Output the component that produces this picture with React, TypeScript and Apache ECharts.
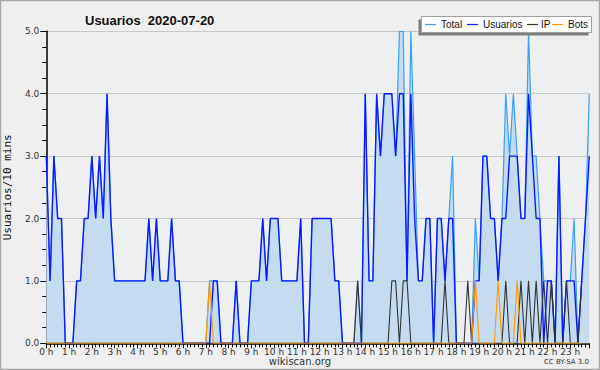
import React, { useEffect, useRef } from "react";
import * as echarts from "echarts";

const hourLabels: string[] = Array.from({ length: 24 }, (_, h) => `${h} h`);

// 10-minute buckets, 144 per day
const usuarios: number[] = [
  3, 1, 3, 2, 2, 0, 0, 0, 1, 1, 2, 2, 3, 2, 3, 2, 4, 2, 1, 1, 1, 1, 1, 1, 1, 1, 1, 2, 1, 2, 1, 1, 1, 2, 1, 1,
  0, 0, 0, 0, 0, 0, 0, 0, 1, 1, 0, 0, 0, 0, 1, 0, 0, 0, 1, 1, 1, 2, 1, 2, 2, 2, 1, 1, 1, 1, 1, 2, 0, 0, 2, 2,
  2, 2, 2, 2, 1, 1, 0, 0, 0, 0, 0, 0, 4, 1, 1, 4, 3, 4, 4, 4, 3, 4, 4, 1, 4, 2, 1, 1, 2, 2, 0, 2, 2, 1, 2, 2,
  0, 0, 0, 0, 0, 1, 1, 3, 3, 2, 2, 1, 2, 2, 3, 3, 3, 2, 2, 4, 3, 2, 2, 0, 1, 1, 0, 3, 0, 1, 1, 1, 0, 1, 2, 3,
];

const total: number[] = [
  3, 1, 3, 2, 2, 0, 0, 0, 1, 1, 2, 2, 3, 2, 3, 2, 4, 2, 1, 1, 1, 1, 1, 1, 1, 1, 1, 2, 1, 2, 1, 1, 1, 2, 1, 1,
  0, 0, 0, 0, 0, 0, 0, 1, 1, 1, 0, 0, 0, 0, 1, 0, 0, 0, 1, 1, 1, 2, 1, 2, 2, 2, 1, 1, 1, 1, 1, 2, 0, 0, 2, 2,
  2, 2, 2, 2, 1, 1, 0, 0, 0, 0, 1, 0, 4, 1, 1, 4, 3, 4, 4, 4, 3, 5, 5, 1, 5, 3, 1, 1, 2, 2, 0, 2, 2, 1, 2, 3,
  0, 0, 0, 0, 0, 2, 1, 3, 3, 2, 2, 1, 2, 4, 3, 4, 3, 2, 2, 5, 3, 3, 2, 1, 1, 1, 0, 3, 0, 1, 1, 2, 0, 1, 2, 4,
];

const ip: number[] = [
  0, 0, 0, 0, 0, 0, 0, 0, 0, 0, 0, 0, 0, 0, 0, 0, 0, 0, 0, 0, 0, 0, 0, 0, 0, 0, 0, 0, 0, 0, 0, 0, 0, 0, 0, 0,
  0, 0, 0, 0, 0, 0, 0, 0, 0, 0, 0, 0, 0, 0, 0, 0, 0, 0, 0, 0, 0, 0, 0, 0, 0, 0, 0, 0, 0, 0, 0, 0, 0, 0, 0, 0,
  0, 0, 0, 0, 0, 0, 0, 0, 0, 0, 1, 0, 0, 0, 0, 0, 0, 0, 0, 1, 1, 0, 1, 1, 0, 0, 0, 0, 0, 0, 0, 0, 0, 1,
  0, 0, 0, 0, 0, 1, 0, 0, 0, 0, 0, 0, 0, 0, 0, 1, 0, 0, 0, 1, 0, 1, 0, 1, 0, 1, 0, 1, 0, 0, 0, 1, 0, 0, 0, 1,
];

const bots: number[] = [
  0, 0, 0, 0, 0, 0, 0, 0, 0, 0, 0, 0, 0, 0, 0, 0, 0, 0, 0, 0, 0, 0, 0, 0, 0, 0, 0, 0, 0, 0, 0, 0, 0, 0, 0, 0,
  0, 0, 0, 0, 0, 0, 0, 1, 0, 0, 0, 0, 0, 0, 0, 0, 0, 0, 0, 0, 0, 0, 0, 0, 0, 0, 0, 0, 0, 0, 0, 0, 0, 0, 0, 0,
  0, 0, 0, 0, 0, 0, 0, 0, 0, 0, 0, 0, 0, 0, 0, 0, 0, 0, 0, 0, 0, 0, 0, 0, 0, 0, 0, 0, 0, 0, 0, 0, 0, 0,
  0, 0, 0, 0, 0, 0, 0, 1, 0, 0, 0, 0, 0, 1, 0, 0, 0, 0, 1, 0, 0, 0, 0, 0, 0, 0, 0, 0, 0, 0, 0, 0, 0, 0, 0, 0,
];

const seriesNames = ["Total", "Usuarios", "IP", "Bots"];
const colors = ["#3d9ff2", "#0a1aff", "#333333", "#ff9a00"];

const pairs = (arr: number[]) => arr.map((v, i) => [i, v]);

export default function App() {
  const ref = useRef<HTMLDivElement>(null);
  useEffect(() => {
    if (!ref.current) return;
    const chart = echarts.init(ref.current, null, { renderer: "svg" });
    const font = "DejaVu Sans";
    const lfont = "Liberation Sans";
    const legendX = [425, 467, 527, 552];
    const legendTextX = [441, 483, 541, 568];
    const legendGraphics: any[] = [];
    seriesNames.forEach((n, k) => {
      legendGraphics.push({
        type: "line",
        shape: { x1: legendX[k], y1: 24.5, x2: legendX[k] + 11, y2: 24.5 },
        style: { stroke: colors[k], lineWidth: 1.2 },
        z: 101,
      });
      legendGraphics.push({
        type: "text",
        x: legendTextX[k],
        y: 24.5,
        style: {
          text: n,
          fill: "#111",
          font: `10px ${lfont}`,
          textVerticalAlign: "middle",
          verticalAlign: "middle",
        },
        z: 101,
      });
    });
    chart.setOption({
      animation: false,
      backgroundColor: "#efefef",
      title: {
        text: "Usuarios  2020-07-20",
        left: 80,
        top: 9,
        textStyle: {
          fontFamily: lfont,
          fontWeight: "bold",
          fontSize: 13,
          color: "#111",
        },
      },
      grid: {
        left: 46.3,
        right: 10.7,
        top: 31.3,
        bottom: 26.7,
        containLabel: false,
        outerBoundsMode: "none",
        show: true,
        backgroundColor: "#eeeff1",
        borderWidth: 0,
      },
      xAxis: {
        type: "value",
        min: 0,
        max: 143,
        interval: 6,
        axisLine: { show: true, lineStyle: { color: "#000", width: 1.5 } },
        axisTick: { show: true, length: 5, lineStyle: { color: "#000" } },
        minorTick: { show: true, splitNumber: 6, length: 4, lineStyle: { color: "#000" } },
        splitLine: { show: false },
        axisLabel: {
          showMaxLabel: false,
          formatter: (v: number) => hourLabels[Math.round(v / 6)] ?? "",
          fontSize: 9,
          fontFamily: font,
          color: "#333",
          margin: 4,
        },
      },
      yAxis: {
        type: "value",
        min: 0,
        max: 5,
        interval: 1,
        name: "Usuarios/10 mins",
        nameLocation: "middle",
        nameGap: 33,
        nameTextStyle: { fontFamily: "DejaVu Sans Mono", fontSize: 11, color: "#111" },
        axisLine: { show: true, lineStyle: { color: "#000", width: 1.5 } },
        axisTick: { show: true, length: 6, lineStyle: { color: "#000" } },
        minorTick: { show: true, splitNumber: 4, length: 4, lineStyle: { color: "#000" } },
        splitLine: { show: true, lineStyle: { color: "#c8c8c8", width: 1 } },
        axisLabel: {
          formatter: (v: number) => v.toFixed(1),
          fontSize: 9,
          fontFamily: font,
          color: "#333",
          margin: 7,
        },
      },
      series: [
        {
          name: "Total",
          type: "line",
          data: pairs(total),
          symbol: "none",
          lineStyle: { color: colors[0], width: 1.2 },
          areaStyle: { color: "#c5dcf0", opacity: 1 },
          z: 1,
        },
        {
          name: "Usuarios",
          type: "line",
          data: pairs(usuarios),
          symbol: "none",
          lineStyle: { color: colors[1], width: 1.4 },
          z: 2,
        },
        {
          name: "IP",
          type: "line",
          data: pairs(ip),
          symbol: "none",
          lineStyle: { color: colors[2], width: 1.1 },
          z: 3,
        },
        {
          name: "Bots",
          type: "line",
          data: pairs(bots),
          symbol: "none",
          lineStyle: { color: colors[3], width: 1.1 },
          z: 4,
        },
      ],
      graphic: [
        {
          type: "rect",
          shape: { x: 0.5, y: 0.5, width: 599, height: 369 },
          style: { fill: "none", stroke: "#a8a8a8", lineWidth: 1.5 },
          z: 100,
        },
        {
          type: "rect",
          shape: { x: 418.5, y: 19.5, width: 170, height: 16 },
          style: { fill: "#7c7c7c" },
          z: 100,
        },
        {
          type: "rect",
          shape: { x: 421.5, y: 16.5, width: 170, height: 16 },
          style: { fill: "#ffffff", stroke: "#a0a0a0", lineWidth: 1 },
          z: 100,
        },
        ...legendGraphics,
        {
          type: "text",
          x: 300,
          y: 361,
          style: {
            text: "wikiscan.org",
            fill: "#333",
            font: `10px ${font}`,
            textAlign: "center",
            textVerticalAlign: "middle",
            verticalAlign: "middle",
          },
        },
        {
          type: "text",
          x: 589,
          y: 362,
          style: {
            text: "CC BY-SA 3.0",
            fill: "#333",
            font: `7px ${font}`,
            textAlign: "right",
            textVerticalAlign: "middle",
            verticalAlign: "middle",
          },
        },
      ],
    });
    return () => chart.dispose();
  }, []);
  return (
    <div
      ref={ref}
      style={{ width: 600, height: 370, position: "fixed", left: 0, top: 0 }}
    />
  );
}
